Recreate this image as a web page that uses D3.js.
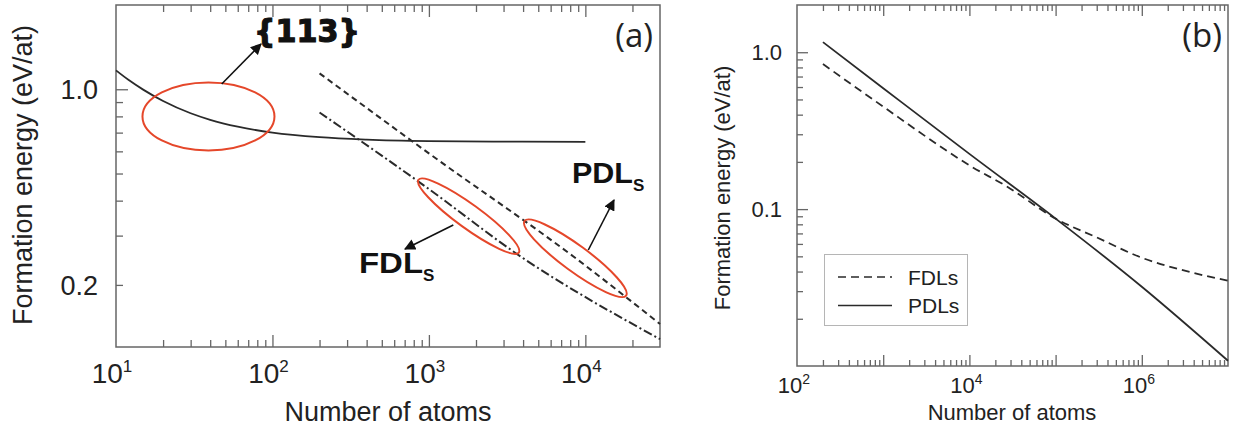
<!DOCTYPE html>
<html><head><meta charset="utf-8">
<script src="https://cdn.jsdelivr.net/npm/d3@7"></script>
<style>body{margin:0;background:#fff;} svg{display:block}</style>
</head><body><svg id="c" width="1236" height="434"></svg>
<script>
// ---------- Panel (a) data ----------
const a113N = [10, 12, 15, 20, 30, 40, 60, 100, 200, 400, 1000, 3000, 10000];
const a113E = [1.168, 1.081, 0.995, 0.908, 0.821, 0.778, 0.735, 0.70, 0.674, 0.661, 0.653, 0.650, 0.649];
const aPdlN = [200, 1000, 8600, 30000];
const aPdlE = [1.14, 0.59, 0.25, 0.145];
const aFdlN = [200, 1000, 3650, 30000];
const aFdlE = [0.826, 0.44, 0.258, 0.128];
const aXTickVals = [10, 100, 1000, 10000];
const aXTickExp = ["1", "2", "3", "4"];
const aYTickVals = [0.2, 1.0];
const aYTickLabels = ["0.2", "1.0"];
// ---------- Panel (b) data ----------
const bFdlN = [200, 1000, 4600, 10000, 27500, 100000, 300000, 1000000, 3700000, 10000000];
const bFdlE = [0.84, 0.45, 0.251, 0.19, 0.139, 0.087, 0.066, 0.049, 0.0396, 0.035];
const bPdlN = [200, 1000, 10000, 100000, 1000000, 10000000];
const bPdlE = [1.16, 0.59, 0.225, 0.087, 0.032, 0.0108];
const bXTickVals = [100, 10000, 1000000];
const bXTickExp = ["2", "4", "6"];
const bYTickVals = [0.1, 1.0];
const bYTickLabels = ["0.1", "1.0"];
const legendLabels = ["FDLs", "PDLs"];
const xTitle = "Number of atoms";
const yTitle = "Formation energy (eV/at)";

const svg = d3.select("#c");
const AX = "#666", LINE = "#2a2a2a", RED = "#e5472a";
const FONT = "'Liberation Sans', Arial, Helvetica, sans-serif";

function isPow10(v){ const l = Math.log10(v); return Math.abs(l - Math.round(l)) < 1e-9; }

function panel(o){
  const g = svg.append("g");
  const x = d3.scaleLog().domain(o.xd).range(o.xr);
  const y = d3.scaleLog().domain(o.yd).range(o.yr);
  const xt = x.ticks().filter(v => v > o.xd[0] * 1.0001 && v < o.xd[1] * 0.9999);
  const yt = y.ticks().filter(o.yFilter);
  const mk = (axisFn, scale, vals, len) => axisFn(scale).tickValues(vals).tickSize(-len).tickFormat("");
  const add = (axis, tr) => {
    const a = g.append("g").attr("transform", tr).call(axis);
    a.select(".domain").remove();
    a.selectAll("line").attr("stroke", AX).attr("stroke-width", 1.3);
  };
  const xMaj = xt.filter(isPow10), xMin = xt.filter(v => !isPow10(v));
  add(mk(d3.axisBottom, x, xMin, o.minor), `translate(0,${o.yr[0]})`);
  add(mk(d3.axisBottom, x, xMaj, o.major), `translate(0,${o.yr[0]})`);
  add(mk(d3.axisTop, x, xMin, o.minor), `translate(0,${o.yr[1]})`);
  add(mk(d3.axisTop, x, xMaj, o.major), `translate(0,${o.yr[1]})`);
  const yMaj = yt.filter(o.yMajor), yMin = yt.filter(v => !o.yMajor(v));
  add(mk(d3.axisLeft, y, yMin, o.minor), `translate(${o.xr[0]},0)`);
  add(mk(d3.axisLeft, y, yMaj, o.major), `translate(${o.xr[0]},0)`);
  // frame
  g.append("rect").attr("x", o.xr[0]).attr("y", o.yr[1])
    .attr("width", o.xr[1] - o.xr[0]).attr("height", o.yr[0] - o.yr[1])
    .attr("fill", "none").attr("stroke", AX).attr("stroke-width", 1.5);
  // x tick labels
  o.xTickVals.forEach((v, i) => {
    const t = g.append("text").attr("x", x(v) + o.xlShift).attr("y", o.yr[0] + o.xlDy)
      .attr("text-anchor", "middle").attr("font-family", FONT).attr("font-size", o.tickFs).attr("fill", "#222");
    t.append("tspan").text("10");
    t.append("tspan").attr("dy", -o.supDy).attr("font-size", o.supFs).text(o.xTickExp[i]);
  });
  // y tick labels
  o.yTickVals.forEach((v, i) => {
    g.append("text").attr("x", o.xr[0] - o.ylGap).attr("y", y(v)).attr("dy", "0.36em")
      .attr("text-anchor", "end").attr("font-family", FONT).attr("font-size", o.ytickFs).attr("fill", "#222")
      .text(o.yTickLabels[i]);
  });
  // titles
  g.append("text").attr("x", o.xtX).attr("y", o.xtY).attr("text-anchor", "middle")
    .attr("font-family", FONT).attr("font-size", o.titleFs).attr("fill", "#222").text(xTitle);
  g.append("text").attr("transform", `translate(${o.ytX},${o.ytY}) rotate(-90)`).attr("text-anchor", "middle")
    .attr("font-family", FONT).attr("font-size", o.titleFs).attr("fill", "#222").text(yTitle);
  // panel tag
  g.append("text").attr("x", o.tagX).attr("y", o.tagY).attr("text-anchor", "end")
    .attr("font-family", "'Open Sans', sans-serif").attr("font-size", 33).attr("fill", "#222").text(o.tag);
  return {g, x, y};
}

function series(p, N, E, dash, w){
  const line = d3.line().x(d => p.x(d[0])).y(d => p.y(d[1])).curve(d3.curveMonotoneX);
  p.g.append("path").datum(N.map((n, i) => [n, E[i]])).attr("d", line)
    .attr("fill", "none").attr("stroke", LINE).attr("stroke-width", w || 1.8)
    .attr("stroke-dasharray", dash || null);
}

// ---------------- Panel (a) ----------------
const A = panel({
  xd: [10, 30000], xr: [116, 660], yd: [0.12, 2.0], yr: [347, 5],
  yFilter: v => v >= 0.2 - 1e-9 && v <= 1.0 + 1e-9, yMajor: v => Math.abs(v - 1) < 1e-9,
  major: 12, minor: 7, xTickVals: aXTickVals, xTickExp: aXTickExp, xlShift: -4, xlDy: 36,
  tickFs: 28, supFs: 17, supDy: 11, yTickVals: aYTickVals, yTickLabels: aYTickLabels, ylGap: 18, ytickFs: 27,
  titleFs: 27, xtX: 388, xtY: 421, ytX: 32, ytY: 175, tag: "(a)", tagX: 653, tagY: 47
});
series(A, a113N, a113E, null, 1.8);
series(A, aPdlN, aPdlE, "6,4", 2);
series(A, aFdlN, aFdlE, "9,3,2,3", 2);

// annotations (a)
const defs = svg.append("defs");
defs.append("marker").attr("id", "ah").attr("viewBox", "0 0 10 10").attr("refX", 9).attr("refY", 5)
  .attr("markerWidth", 7).attr("markerHeight", 7).attr("markerUnits", "strokeWidth").attr("orient", "auto")
  .append("path").attr("d", "M0,0 L10,5 L0,10 Z").attr("fill", "#111");
const ellipses = [
  {n: 39, e: 0.80, rx: 66, ry: 34, rot: 0},
  {n: 1795, e: 0.352, rx: 62, ry: 12, rot: 36},
  {n: 8630, e: 0.249, rx: 63, ry: 13, rot: 36.3}
];
ellipses.forEach(d => {
  A.g.append("ellipse").attr("cx", 0).attr("cy", 0).attr("rx", d.rx).attr("ry", d.ry)
    .attr("transform", `translate(${A.x(d.n)},${A.y(d.e)}) rotate(${d.rot})`)
    .attr("fill", "none").attr("stroke", RED).attr("stroke-width", 2);
});
const arrows = [[221.7, 84, 261, 44], [453.3, 225, 405, 249], [588.3, 250, 614, 200]];
arrows.forEach(a => {
  A.g.append("line").attr("x1", a[0]).attr("y1", a[1]).attr("x2", a[2]).attr("y2", a[3])
    .attr("stroke", "#111").attr("stroke-width", 1.6).attr("marker-end", "url(#ah)");
});
A.g.append("text").attr("x", 254).attr("y", 42).attr("font-family", "'DejaVu Sans', sans-serif")
  .attr("font-weight", "bold").attr("font-size", 32).attr("fill", "#111")
  .attr("stroke", "#111").attr("stroke-width", 1.2)
  .attr("textLength", 106).attr("lengthAdjust", "spacingAndGlyphs").text("{113}");
function dlLabel(xp, yp, main, w){
  const t = A.g.append("text").attr("x", xp).attr("y", yp).attr("font-family", FONT)
    .attr("font-weight", "bold").attr("font-size", 29).attr("fill", "#111");
  t.append("tspan").attr("textLength", w).attr("lengthAdjust", "spacingAndGlyphs").text(main);
  t.append("tspan").attr("dy", 8).attr("font-size", 17).text("S");
}
dlLabel(359, 273, "FDL", 64);
dlLabel(572, 183, "PDL", 61);

// ---------------- Panel (b) ----------------
const B = panel({
  xd: [100, 1e7], xr: [797, 1228], yd: [0.01, 2.0], yr: [366, 5],
  yFilter: v => v > 0.0100001 && v <= 1.0 + 1e-9, yMajor: v => Math.abs(v - 1) < 1e-9 || Math.abs(v - 0.1) < 1e-9,
  major: 11, minor: 6, xTickVals: bXTickVals, xTickExp: bXTickExp, xlShift: -3, xlDy: 27,
  tickFs: 22, supFs: 14, supDy: 9, yTickVals: bYTickVals, yTickLabels: bYTickLabels, ylGap: 15, ytickFs: 22,
  titleFs: 22, xtX: 1012, xtY: 420, ytX: 730, ytY: 188, tag: "(b)", tagX: 1222, tagY: 47
});
series(B, bFdlN, bFdlE, "8,5", 1.8);
series(B, bPdlN, bPdlE, null, 1.8);

// legend (b)
const lg = B.g.append("g");
lg.append("rect").attr("x", 824.5).attr("y", 254.5).attr("width", 143).attr("height", 71)
  .attr("fill", "#fff").attr("stroke", "#b5b5b5").attr("stroke-width", 1);
legendLabels.forEach((lab, i) => {
  const yy = 277 + i * 28.5;
  lg.append("line").attr("x1", 838).attr("x2", 892).attr("y1", yy).attr("y2", yy)
    .attr("stroke", LINE).attr("stroke-width", 1.6).attr("stroke-dasharray", i === 0 ? "8,5" : null);
  lg.append("text").attr("x", 908).attr("y", yy + 7.5).attr("font-family", FONT).attr("font-size", 21)
    .attr("fill", "#222").text(lab);
});
</script></body></html>
